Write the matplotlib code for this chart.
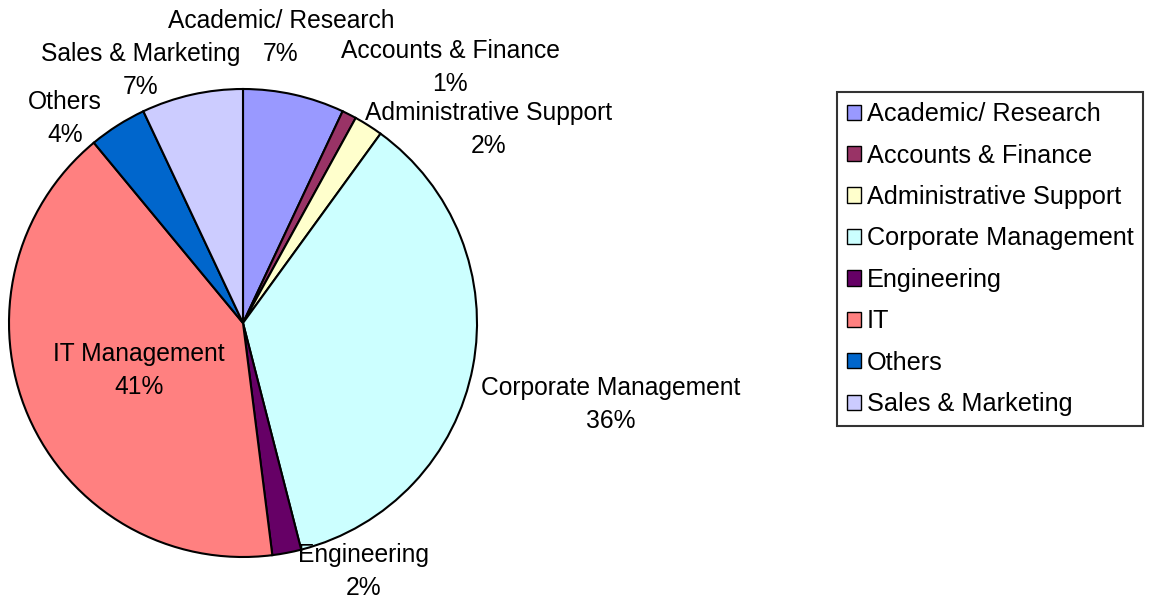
import matplotlib.pyplot as plt
from matplotlib.patches import Patch

plt.rcParams['font.family'] = ['Liberation Sans', 'DejaVu Sans']

categories = ['Academic/ Research', 'Accounts & Finance', 'Administrative Support',
              'Corporate Management', 'Engineering', 'IT', 'Others', 'Sales & Marketing']
slice_labels = ['Academic/ Research', 'Accounts & Finance', 'Administrative Support',
                'Corporate Management', 'Engineering', 'IT Management', 'Others', 'Sales & Marketing']
shares = [7, 1, 2, 36, 2, 41, 4, 7]

colors = ['#9999FF', '#993366', '#FFFFCC', '#CCFFFF', '#660066', '#FF8080', '#0066CC', '#CCCCFF']

# label block centres (pie radius = 1)
label_pos = [(0.162, 1.218), (0.885, 1.094), (1.051, 0.825), (1.573, -0.350),
             (0.517, -1.060), (-0.444, -0.205), (-0.761, 0.876), (-0.436, 1.077)]

W, H = 1151, 601
cx, cy, R = 243, 323, 234
half_gap = 16.5 / R   # half the distance between the two label lines

fig = plt.figure(figsize=(W / 100, H / 100), dpi=100)
ax = fig.add_axes([(cx - R) / W, (H - cy - R) / H, 2 * R / W, 2 * R / H])

ax.pie(shares, colors=colors, startangle=90, counterclock=False,
       wedgeprops=dict(edgecolor='black', linewidth=1.5))
ax.set_xlim(-1, 1)
ax.set_ylim(-1, 1)
ax.set_aspect('equal')
ax.axis('off')

for lab, val, (x, y) in zip(slice_labels, shares, label_pos):
    ax.text(x, y + half_gap, lab, ha='center', va='center', fontsize=17.7, color='black')
    ax.text(x, y - half_gap, f'{val}%', ha='center', va='center', fontsize=17.7, color='black')

handles = [Patch(facecolor=c, edgecolor='black', linewidth=1.0) for c in colors]
leg = fig.legend(handles, categories, loc='upper left',
                 bbox_to_anchor=(837 / W, 1 - 92 / H), fontsize=18.2,
                 frameon=True, fancybox=False, handlelength=0.55, handleheight=0.55,
                 handletextpad=0.22, labelspacing=0.69, borderpad=0.4,
                 borderaxespad=0)
leg.get_frame().set_edgecolor('black')
leg.get_frame().set_linewidth(1.5)

fig.savefig('out.png', dpi=100)
